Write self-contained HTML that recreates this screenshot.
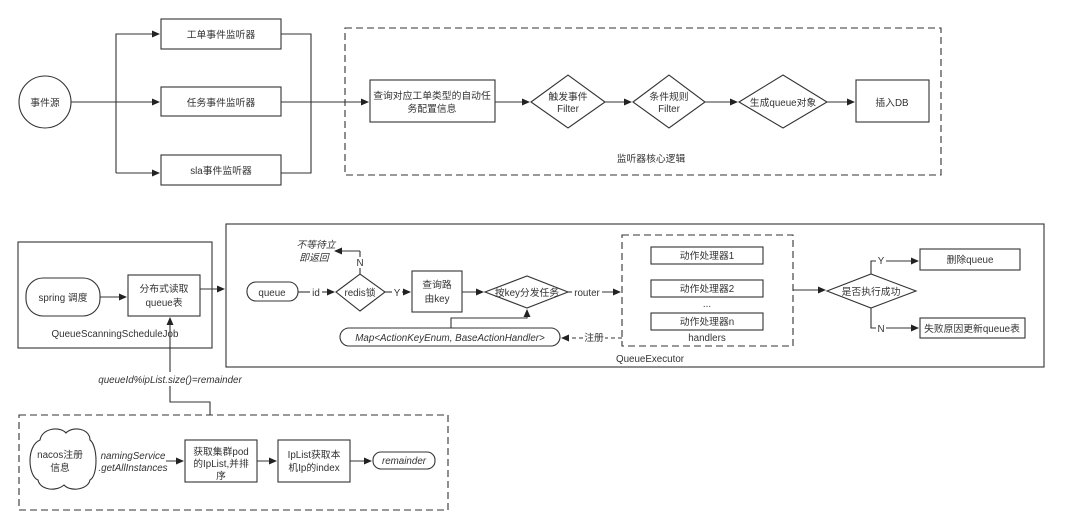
<!DOCTYPE html>
<html><head><meta charset="utf-8"><style>
html,body{margin:0;padding:0;background:#fff;}
svg{display:block;}
text{font-family:"Liberation Sans","Noto Sans CJK SC",sans-serif;fill:#333;font-size:9.8px;}
.i{font-style:italic;}
</style></head><body>
<svg width="1080" height="530" viewBox="0 0 1080 530" xmlns="http://www.w3.org/2000/svg">
<defs><marker id="a" markerWidth="8" markerHeight="8" refX="7" refY="4" orient="auto" markerUnits="userSpaceOnUse"><path d="M0,0.5 L8,4 L0,7.5 z" fill="#222"/></marker></defs>
<g stroke="#333" stroke-width="1.1" fill="none">
<circle cx="45" cy="102" r="26" fill="#fff"/>
<path d="M71,102 H159" marker-end="url(#a)"/>
<path d="M116,173 V34 H159" marker-end="url(#a)"/>
<path d="M116,173 H159" marker-end="url(#a)"/>
<rect x="161" y="19" width="120" height="30"/>
<rect x="161" y="87" width="120" height="29"/>
<rect x="161" y="155" width="120" height="30"/>
<path d="M281,34 H311 V173 H281 M281,102 H368" />
<path d="M311,102 H368" marker-end="url(#a)"/>
<rect x="345" y="28" width="596" height="147" stroke-dasharray="7,4"/>
<rect x="370" y="80" width="125" height="42"/>
<path d="M495,102 H529" marker-end="url(#a)"/>
<path d="M531,102 L568,75 L605,102 L568,128 Z"/>
<path d="M605,102 H631" marker-end="url(#a)"/>
<path d="M633,102 L669,75 L705,102 L669,128 Z"/>
<path d="M705,102 H737" marker-end="url(#a)"/>
<path d="M739,102 L783,75 L827,102 L783,128 Z"/>
<path d="M827,102 H854" marker-end="url(#a)"/>
<rect x="856" y="80" width="73" height="42"/>
<rect x="18" y="242" width="194" height="106"/>
<rect x="26" y="278" width="74" height="38" rx="17"/>
<path d="M100,297 H126" marker-end="url(#a)"/>
<rect x="128" y="275" width="72" height="41"/>
<path d="M200,289 H224" marker-end="url(#a)"/>
<rect x="226" y="224" width="818" height="143"/>
<rect x="247" y="282" width="51" height="19" rx="9"/>
<path d="M298,292 H310" /><path d="M322,292 H334" marker-end="url(#a)"/>
<path d="M336,292 L360,274 L385,292 L360,311 Z"/>
<path d="M360,274 V268 M360,257 V251" /><path d="M360,251 H335" marker-end="url(#a)"/>
<path d="M385,292 H392" /><path d="M402,292 H410" marker-end="url(#a)"/>
<rect x="412" y="271" width="50" height="41"/>
<path d="M462,292 H483" marker-end="url(#a)"/>
<path d="M485,292 L527,276 L568,292 L527,308 Z"/>
<path d="M568,292 H572" /><path d="M602,292 H620" marker-end="url(#a)"/>
<rect x="340" y="328" width="220" height="18" rx="9"/>
<path d="M451,328 V318 H527 V310" marker-end="url(#a)"/>
<path d="M622,338 H605 M583,338 H562" stroke-dasharray="4,3" marker-end="url(#a)"/>
<rect x="622" y="235" width="171" height="111" stroke-dasharray="7,4"/>
<rect x="651" y="247" width="112" height="17"/>
<rect x="651" y="280" width="112" height="17"/>
<rect x="651" y="313" width="112" height="17"/>
<path d="M793,290 H825" marker-end="url(#a)"/>
<path d="M827,291 L871,274 L916,291 L871,308 Z"/>
<path d="M871,274 V261 H876" /><path d="M886,261 H918" marker-end="url(#a)"/>
<path d="M871,308 V328 H876" /><path d="M886,328 H918" marker-end="url(#a)"/>
<rect x="920" y="249" width="100" height="21"/>
<rect x="920" y="318" width="105" height="20"/>
<path d="M170,386 V402 H210 V415" />
<path d="M170,372 V318" marker-end="url(#a)"/>
<rect x="19" y="415" width="429" height="95" stroke-dasharray="7,4"/>
<path d="M40,440 C42,428 60,426 66,433 C72,426 90,428 90,440 C98,446 98,476 90,480 C88,490 70,492 64,485 C56,492 40,490 38,480 C28,476 26,446 40,440 Z"/>
<path d="M166,461 H183" marker-end="url(#a)"/>
<rect x="185" y="440" width="72" height="42"/>
<path d="M257,461 H276" marker-end="url(#a)"/>
<rect x="278" y="440" width="72" height="42"/>
<path d="M350,461 H371" marker-end="url(#a)"/>
<rect x="373" y="452" width="62" height="17" rx="8"/>
</g>
<g text-anchor="middle">
<text x="45" y="106">事件源</text>
<text x="221" y="38">工单事件监听器</text>
<text x="221" y="106">任务事件监听器</text>
<text x="221" y="174">sla事件监听器</text>
<text x="432" y="99">查询对应工单类型的自动任</text>
<text x="432" y="112">务配置信息</text>
<text x="568" y="100">触发事件</text><text x="568" y="112">Filter</text>
<text x="669" y="100">条件规则</text><text x="669" y="112">Filter</text>
<text x="783" y="106">生成queue对象</text>
<text x="892" y="106">插入DB</text>
<text x="651" y="162">监听器核心逻辑</text>
<text x="63" y="301">spring 调度</text>
<text x="164" y="292">分布式读取</text><text x="164" y="306">queue表</text>
<text x="115" y="337">QueueScanningScheduleJob</text>
<text x="272" y="296">queue</text>
<text x="316" y="296">id</text>
<text x="360" y="296">redis锁</text>
<text x="397" y="296">Y</text>
<text x="360" y="266">N</text>
<text class="i" x="316" y="248">不等待立</text><text class="i" x="314" y="261">即返回</text>
<text x="437" y="288">查询路</text><text x="437" y="302">由key</text>
<text x="527" y="296">按key分发任务</text>
<text x="587" y="296">router</text>
<text class="i" x="450" y="341">Map&lt;ActionKeyEnum, BaseActionHandler&gt;</text>
<text x="594" y="341">注册</text>
<text x="707" y="259">动作处理器1</text>
<text x="707" y="292">动作处理器2</text>
<text x="707" y="307">...</text>
<text x="707" y="325">动作处理器n</text>
<text x="707" y="341">handlers</text>
<text x="650" y="362">QueueExecutor</text>
<text x="871" y="295">是否执行成功</text>
<text x="881" y="264">Y</text>
<text x="881" y="332">N</text>
<text x="970" y="263">删除queue</text>
<text x="972" y="332">失败原因更新queue表</text>
<text class="i" x="170" y="383">queueId%ipList.size()=remainder</text>
<text x="60" y="458">nacos注册</text><text x="60" y="471">信息</text>
<text class="i" x="133" y="459">namingService</text><text class="i" x="133" y="471">.getAllInstances</text>
<text x="221" y="455">获取集群pod</text><text x="221" y="467">的IpList,并排</text><text x="221" y="479">序</text>
<text x="314" y="458">IpList获取本</text><text x="314" y="471">机Ip的index</text>
<text class="i" x="404" y="464">remainder</text>
</g>
</svg>
</body></html>
